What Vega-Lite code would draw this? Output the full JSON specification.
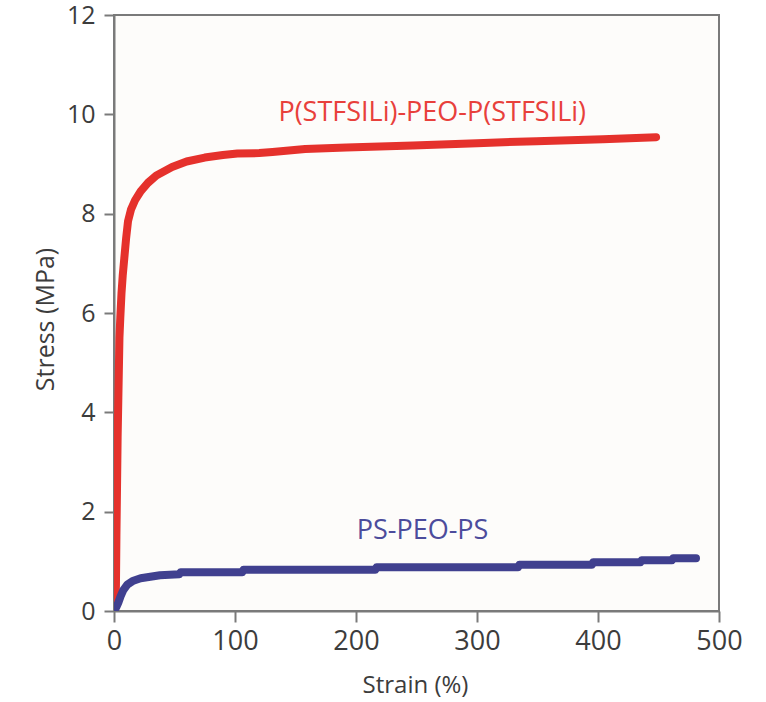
{
  "$schema": "https://vega.github.io/schema/vega-lite/v6.json",
  "width": 605,
  "height": 596,
  "autosize": {"type": "none"},
  "padding": {"left": 114, "top": 15, "right": 47, "bottom": 91},
  "background": "#ffffff",
  "config": {
    "view": {"fill": "#fdfcfa", "stroke": "#7a7a7a", "strokeWidth": 2},
    "font": "Open Sans"
  },
  "datasets": {
    "curves": [
      {"series": "P(STFSILi)-PEO-P(STFSILi)", "strain": 0, "stress": 0},
      {"series": "P(STFSILi)-PEO-P(STFSILi)", "strain": 1, "stress": 0.1},
      {"series": "P(STFSILi)-PEO-P(STFSILi)", "strain": 1.6, "stress": 0.5},
      {"series": "P(STFSILi)-PEO-P(STFSILi)", "strain": 2, "stress": 1.5},
      {"series": "P(STFSILi)-PEO-P(STFSILi)", "strain": 2.5, "stress": 2.5},
      {"series": "P(STFSILi)-PEO-P(STFSILi)", "strain": 3, "stress": 3.5},
      {"series": "P(STFSILi)-PEO-P(STFSILi)", "strain": 3.6, "stress": 4.3},
      {"series": "P(STFSILi)-PEO-P(STFSILi)", "strain": 4.5, "stress": 5.5},
      {"series": "P(STFSILi)-PEO-P(STFSILi)", "strain": 5.2, "stress": 5.9},
      {"series": "P(STFSILi)-PEO-P(STFSILi)", "strain": 6.2, "stress": 6.4},
      {"series": "P(STFSILi)-PEO-P(STFSILi)", "strain": 7.2, "stress": 6.75},
      {"series": "P(STFSILi)-PEO-P(STFSILi)", "strain": 8.5, "stress": 7.1},
      {"series": "P(STFSILi)-PEO-P(STFSILi)", "strain": 10, "stress": 7.5},
      {"series": "P(STFSILi)-PEO-P(STFSILi)", "strain": 11.6, "stress": 7.85},
      {"series": "P(STFSILi)-PEO-P(STFSILi)", "strain": 14, "stress": 8.08},
      {"series": "P(STFSILi)-PEO-P(STFSILi)", "strain": 17.4, "stress": 8.27},
      {"series": "P(STFSILi)-PEO-P(STFSILi)", "strain": 22, "stress": 8.45},
      {"series": "P(STFSILi)-PEO-P(STFSILi)", "strain": 28, "stress": 8.62},
      {"series": "P(STFSILi)-PEO-P(STFSILi)", "strain": 35, "stress": 8.77},
      {"series": "P(STFSILi)-PEO-P(STFSILi)", "strain": 48, "stress": 8.94},
      {"series": "P(STFSILi)-PEO-P(STFSILi)", "strain": 60, "stress": 9.05},
      {"series": "P(STFSILi)-PEO-P(STFSILi)", "strain": 75, "stress": 9.13},
      {"series": "P(STFSILi)-PEO-P(STFSILi)", "strain": 90, "stress": 9.18},
      {"series": "P(STFSILi)-PEO-P(STFSILi)", "strain": 102, "stress": 9.21},
      {"series": "P(STFSILi)-PEO-P(STFSILi)", "strain": 120, "stress": 9.22},
      {"series": "P(STFSILi)-PEO-P(STFSILi)", "strain": 131, "stress": 9.24},
      {"series": "P(STFSILi)-PEO-P(STFSILi)", "strain": 158, "stress": 9.3},
      {"series": "P(STFSILi)-PEO-P(STFSILi)", "strain": 192, "stress": 9.33},
      {"series": "P(STFSILi)-PEO-P(STFSILi)", "strain": 247, "stress": 9.37},
      {"series": "P(STFSILi)-PEO-P(STFSILi)", "strain": 300, "stress": 9.42},
      {"series": "P(STFSILi)-PEO-P(STFSILi)", "strain": 349, "stress": 9.46},
      {"series": "P(STFSILi)-PEO-P(STFSILi)", "strain": 404, "stress": 9.5},
      {"series": "P(STFSILi)-PEO-P(STFSILi)", "strain": 448, "stress": 9.54},
      {"series": "PS-PEO-PS", "strain": 0, "stress": 0},
      {"series": "PS-PEO-PS", "strain": 2, "stress": 0.08},
      {"series": "PS-PEO-PS", "strain": 3.6, "stress": 0.17},
      {"series": "PS-PEO-PS", "strain": 5.5, "stress": 0.3},
      {"series": "PS-PEO-PS", "strain": 7.7, "stress": 0.42},
      {"series": "PS-PEO-PS", "strain": 11, "stress": 0.53},
      {"series": "PS-PEO-PS", "strain": 16, "stress": 0.61},
      {"series": "PS-PEO-PS", "strain": 22, "stress": 0.66},
      {"series": "PS-PEO-PS", "strain": 30, "stress": 0.69},
      {"series": "PS-PEO-PS", "strain": 38, "stress": 0.72},
      {"series": "PS-PEO-PS", "strain": 54, "stress": 0.74},
      {"series": "PS-PEO-PS", "strain": 55, "stress": 0.78},
      {"series": "PS-PEO-PS", "strain": 106, "stress": 0.78},
      {"series": "PS-PEO-PS", "strain": 107, "stress": 0.83},
      {"series": "PS-PEO-PS", "strain": 216, "stress": 0.83},
      {"series": "PS-PEO-PS", "strain": 217, "stress": 0.88},
      {"series": "PS-PEO-PS", "strain": 334, "stress": 0.88},
      {"series": "PS-PEO-PS", "strain": 335, "stress": 0.93},
      {"series": "PS-PEO-PS", "strain": 395, "stress": 0.93},
      {"series": "PS-PEO-PS", "strain": 396, "stress": 0.98},
      {"series": "PS-PEO-PS", "strain": 435, "stress": 0.98},
      {"series": "PS-PEO-PS", "strain": 436, "stress": 1.02},
      {"series": "PS-PEO-PS", "strain": 461, "stress": 1.02},
      {"series": "PS-PEO-PS", "strain": 462, "stress": 1.06},
      {"series": "PS-PEO-PS", "strain": 481, "stress": 1.06}
    ],
    "labels": [
      {"series": "P(STFSILi)-PEO-P(STFSILi)", "strain": 263, "stress": 10.03},
      {"series": "PS-PEO-PS", "strain": 255, "stress": 1.62}
    ]
  },
  "layer": [
    {
      "data": {"name": "curves"},
      "mark": {"type": "line", "strokeWidth": 8, "strokeCap": "round", "strokeJoin": "round", "clip": true},
      "encoding": {
        "x": {
          "field": "strain", "type": "quantitative",
          "scale": {"domain": [0, 500], "nice": false, "zero": false},
          "axis": {
            "title": "Strain (%)", "values": [0, 100, 200, 300, 400, 500],
            "grid": false, "domainColor": "#7a7a7a", "domainWidth": 2,
            "tickColor": "#7a7a7a", "tickWidth": 2, "tickSize": 11,
            "labelFont": "Open Sans", "labelFontSize": 27, "labelColor": "#3c3c3c", "labelPadding": 6,
            "labelFlush": false,
            "titleFont": "Open Sans", "titleFontSize": 24, "titleFontWeight": "normal", "titleColor": "#3c3c3c",
            "titleX": 301, "titleY": 74, "titleBaseline": "middle"
          }
        },
        "y": {
          "field": "stress", "type": "quantitative",
          "scale": {"domain": [0, 12], "nice": false},
          "axis": {
            "title": "Stress (MPa)", "values": [0, 2, 4, 6, 8, 10, 12],
            "grid": false, "domainColor": "#7a7a7a", "domainWidth": 2,
            "tickColor": "#7a7a7a", "tickWidth": 2, "tickSize": 10,
            "labelFont": "Open Sans", "labelFontSize": 25, "labelColor": "#3c3c3c", "labelPadding": 9,
            "labelFlush": false,
            "titleFont": "Open Sans", "titleFontSize": 25, "titleFontWeight": "normal", "titleColor": "#3c3c3c",
            "titleX": -69, "titleY": 304, "titleBaseline": "middle", "titleAngle": -90
          }
        },
        "color": {
          "field": "series", "type": "nominal",
          "scale": {"domain": ["P(STFSILi)-PEO-P(STFSILi)", "PS-PEO-PS"], "range": ["#e5312c", "#40408f"]},
          "legend": null
        }
      }
    },
    {
      "data": {"name": "labels"},
      "mark": {"type": "text", "font": "Open Sans", "fontSize": 27, "align": "center", "baseline": "middle"},
      "encoding": {
        "x": {"field": "strain", "type": "quantitative"},
        "y": {"field": "stress", "type": "quantitative"},
        "text": {"field": "series"},
        "color": {
          "field": "series", "type": "nominal",
          "scale": {"domain": ["P(STFSILi)-PEO-P(STFSILi)", "PS-PEO-PS"], "range": ["#e8403b", "#4c4c9c"]},
          "legend": null
        }
      }
    }
  ],
  "resolve": {"scale": {"color": "independent"}}
}
